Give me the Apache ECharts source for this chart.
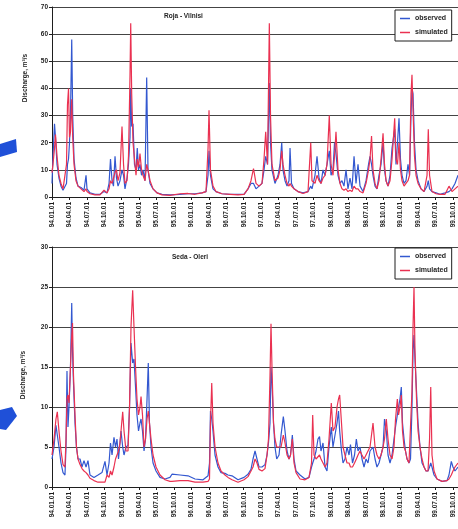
<!DOCTYPE html>
<html><head><meta charset="utf-8">
<script src="https://cdn.jsdelivr.net/npm/echarts/dist/echarts.min.js"></script>
<style>html,body{margin:0;padding:0;background:#fff}#c{width:458px;height:529px}</style>
</head><body><div id="c"></div>
<script>
// time: years since 1994-01-01
const tickLabels = ['94.01.01','94.04.01','94.07.01','94.10.01','95.01.01','95.04.01','95.07.01','95.10.01','96.01.01','96.04.01','96.07.01','96.10.01','97.01.01','97.04.01','97.07.01','97.10.01','98.01.01','98.04.01','98.07.01','98.10.01','99.01.01','99.04.01','99.07.01','99.10.01'];

const topTime = [0.000,0.014,0.036,0.050,0.072,0.100,0.129,0.158,0.186,0.208,
0.222,0.237,0.251,0.265,0.283,0.297,0.316,0.344,0.373,0.416,
0.459,0.488,0.502,0.545,0.617,0.688,0.746,0.789,0.818,0.839,
0.861,0.882,0.904,0.925,0.947,0.975,1.004,1.026,1.047,1.076,
1.097,1.119,1.129,1.143,1.162,1.183,1.205,1.223,1.241,1.262,
1.284,1.305,1.334,1.358,1.377,1.406,1.449,1.506,1.578,1.692,
1.836,1.951,2.051,2.151,2.209,2.238,2.252,2.273,2.309,2.352,
2.438,2.553,2.668,2.754,2.811,2.854,2.890,2.926,2.969,3.012,
3.041,3.065,3.091,3.117,3.134,3.155,3.198,3.242,3.270,3.295,
3.313,3.342,3.371,3.399,3.414,3.435,3.471,3.528,3.600,3.672,
3.711,3.729,3.772,3.801,3.830,3.858,3.887,3.916,3.944,3.977,
4.002,4.030,4.052,4.073,4.102,4.131,4.159,4.188,4.217,4.245,
4.274,4.303,4.332,4.360,4.389,4.418,4.461,4.504,4.540,4.561,
4.583,4.604,4.633,4.661,4.690,4.719,4.748,4.769,4.791,4.819,
4.848,4.877,4.915,4.934,4.955,4.977,4.998,5.020,5.049,5.077,
5.106,5.128,5.149,5.163,5.178,5.199,5.221,5.250,5.293,5.336,
5.379,5.397,5.415,5.450,5.508,5.565,5.637,5.694,5.737,5.780,
5.823];
const topObserved = [5,15,27,22,12,7,4,2.5,2,5,
12,14,20,30,58,30,14,7,4,3.5,
2.5,8,3,1.5,1,1,2,1.5,5,14,
6,4,15,7,4,6,10,8,3,7,
12,22,40,26,27,12,10,18,10,12,
8,10,6,44,10,5,3,1.5,1,0.8,
1,1.2,1.2,1.5,2,8,17,8,3,2,
1.2,1,1,1,3,5,5,3,4,5,
10,15,12,42,20,10,5,8,12,20,
10,6,4,6,18,5,3,2,1.5,2,
4,3,8,15,7,5,10,8,12,17,
8,10,20,16,8,5,6,4,10,3,
7,3,15,5,12,4,2,6,12,15,
12,8,4,3,8,12,20,10,6,4,
8,18,25,12,20,29,14,8,5,6,
12,8,30,40,38,20,10,6,3,2,
4,6,3,2,1.5,1,1.5,2,3,5,
8];
const topSimulated = [9,12,18,23,15,8,5,3,2.5,12,
34,40,22,24,36,22,12,6,4,3,
2,3,2,1.2,0.8,0.8,2.5,1.5,3,6,
5,7,9,10,6,9,26,12,5,6,
15,45,64,38,20,14,8,14,11,16,
10,8,6,12,10,6,3,1.5,0.8,0.6,
1.2,1.3,1,1.5,2,18,32,10,4,2,
1.2,1,0.8,1,3,6,10.5,5,4,5,
14,24,12,64,30,12,6,7,10,17,
12,8,5,4,5,4,3,2,1.3,2,
20,6,5,8,6,5,7,8,12,30,
12,8,15,24,10,5,3,2.5,3,2,
2.5,2,4,3,3,2,1.5,5,10,14,
22.5,10,5,3,6,14,23.5,12,6,4,
6,14,29,14,12,20,10,6,4,5,
6,8,38,45,32,15,8,5,3,2,
8,25,8,2,1.2,1,1,4,2,3,
4];

const botTime = [0.000,0.029,0.057,0.076,0.100,0.129,0.158,0.186,0.201,0.215,
0.229,0.244,0.265,0.283,0.294,0.308,0.330,0.351,0.373,0.402,
0.430,0.459,0.488,0.516,0.545,0.602,0.660,0.717,0.760,0.789,
0.818,0.839,0.861,0.889,0.911,0.932,0.954,0.975,0.990,1.014,
1.033,1.061,1.090,1.112,1.133,1.157,1.176,1.198,1.219,1.241,
1.262,1.277,1.298,1.320,1.341,1.363,1.381,1.398,1.420,1.449,
1.492,1.549,1.621,1.692,1.721,1.836,1.951,2.051,2.166,2.238,
2.259,2.273,2.291,2.309,2.338,2.381,2.424,2.481,2.524,2.582,
2.668,2.754,2.811,2.854,2.883,2.912,2.940,2.969,3.012,3.055,
3.084,3.105,3.127,3.141,3.155,3.177,3.198,3.223,3.256,3.285,
3.318,3.342,3.371,3.399,3.421,3.447,3.471,3.500,3.557,3.629,
3.686,3.722,3.739,3.758,3.787,3.815,3.837,3.858,3.887,3.916,
3.944,3.973,4.006,4.030,4.059,4.088,4.109,4.126,4.152,4.174,
4.202,4.231,4.260,4.281,4.310,4.339,4.365,4.389,4.418,4.446,
4.475,4.504,4.532,4.561,4.604,4.633,4.661,4.690,4.719,4.748,
4.769,4.795,4.819,4.848,4.877,4.905,4.927,4.953,4.970,4.991,
5.010,5.027,5.049,5.070,5.092,5.120,5.142,5.163,5.178,5.192,
5.206,5.228,5.250,5.278,5.307,5.336,5.364,5.393,5.415,5.432,
5.450,5.479,5.522,5.594,5.665,5.694,5.727,5.751,5.780,5.823];
const botObserved = [3.5,5,7.7,6.5,5,3,1.8,1.5,5,14.5,
7.5,10,15,23,17,13,8,5,3.5,3.5,
2.5,3.3,2.5,3.3,1.5,1.2,1.5,1.8,3.2,1.5,
3,5.5,4,6.2,5,6,3.5,5.5,7,5,
4,5,5.2,10,18,15.5,16,12.5,9,7,
8,8.5,7,4.5,6,11,15.5,8,5,3,
2,1.2,1,1.2,1.6,1.5,1.4,1,0.9,1.4,
3,9.5,8.5,7,4,2.5,1.8,1.7,1.5,1.4,
0.9,1.2,1.6,2.2,3.5,4.5,3.5,2.5,2.5,2.8,
4,5.5,8,15,13,8,5,3.5,4,6.5,
8.8,7,4.5,3.5,4,6.5,3.5,2,1.5,1,
1.2,2.5,3,3.5,4.5,6,6.3,4.5,5.5,2.5,
2,5,7.5,5,6.5,8,9.5,7,4.5,3,
3.5,5,4,5.3,3,4,6,4.5,5,3.5,
2.5,3.5,3,4.5,5,3.5,2.5,3,4,5,
8.5,7,4,3,4,6,7.5,9,10,11,
12.5,8,6,4.5,3.5,3,3.5,10,17,19,
16,12,8,5,3,2.5,2,2,2.5,3,
2.5,1.5,1,0.7,0.8,1.5,3.2,2.5,2,2.5];
const botSimulated = [4,6,8.5,9.4,7,4.5,2.8,2.5,6,11,
11.5,10.5,15,19,20.5,14,9,5,3.5,2.8,
2.3,2,1.8,1.5,1.1,0.8,0.6,0.6,0.6,1.5,
1.2,2,1.5,2.5,3.5,4,4.5,5.5,7,9.4,
7,4.5,4.5,10,20,24.6,20,15,11,9,
10,11.3,9,5,6,8.5,9.5,8,6,4,
2.5,1.5,0.9,0.7,0.7,0.8,0.8,0.6,0.6,0.7,
1,8,13,8,5,3,2,1.5,1.2,0.9,
0.6,0.9,1.3,2,2.5,3.5,3,2.2,2,2.3,
4,6,14,20.4,15,8,6,5,5,5,
6.5,5.5,4,3.5,4,6,3,1.8,1,0.9,
1.2,3,9,4,3.5,3.5,4,3.5,3,2.5,
3,6,10.5,7,7.5,10,11,11.5,8,5,
4,3,3,2.5,2.5,3,3.5,4,4.5,4,
3.5,4,4,5,8,5,4,3.5,4,5,
6,8.5,6,4,3.5,5,8.5,11,9,10,
11.5,7,5,4.5,3.5,3,3,12,20,25,
17,11,7,5,3.5,2.5,2,2,6,12.5,
4,2,1,0.7,0.8,1,1.5,2,2.5,3];

const titles = ['Roja - Vilnisi', 'Seda - Oleri'];
const yName = 'Discharge, m\u00b3/s';

const FONT = 'Liberation Sans, Arial, sans-serif';
const BLUE = '#3358d0', RED = '#ea3151', INK = '#1e1e1e', GRIDC = '#444444';
const zip = (t, v) => t.map((x, i) => [x, v[i]]);
function fmt(v) {
  const k = Math.round(v * 4);
  if (Math.abs(v * 4 - k) > 1e-6 || k < 0 || k >= tickLabels.length) return '';
  return tickLabels[k];
}
function xAxis(gi) {
  return {
    type: 'value', gridIndex: gi, min: 0, max: 5.823, interval: 0.25,
    axisLine: { show: true, lineStyle: { color: INK, width: 1 } },
    axisTick: { show: true, length: 3, lineStyle: { color: INK } },
    splitLine: { show: false },
    axisLabel: { rotate: 90, margin: 5, fontSize: 6.5, fontWeight: 'bold', color: INK, fontFamily: FONT, formatter: fmt }
  };
}
function yAxis(gi, max, step) {
  return {
    type: 'value', gridIndex: gi, min: 0, max: max, interval: step,
    axisLine: { show: true, lineStyle: { color: INK, width: 1 } },
    axisTick: { show: true, length: 3, lineStyle: { color: INK } },
    splitLine: { show: true, lineStyle: { color: GRIDC, width: 1 } },
    axisLabel: { margin: 4, fontSize: 6.5, fontWeight: 'bold', color: INK, fontFamily: FONT }
  };
}
function legend(top) {
  return {
    left: 395, top: top, orient: 'vertical', data: ['observed', 'simulated'],
    icon: 'rect', itemWidth: 10, itemHeight: 1.5, itemGap: 5,
    padding: [4, 4, 4, 5], borderColor: INK, borderWidth: 1, backgroundColor: '#fff',
    textStyle: { fontSize: 7, fontWeight: 'bold', color: INK, fontFamily: FONT, lineHeight: 9 }
  };
}
function line(name, data, color, xi) {
  return {
    name: name, type: 'line', xAxisIndex: xi, yAxisIndex: xi, data: data,
    showSymbol: false, symbol: 'none', color: color, animation: false,
    lineStyle: { color: color, width: 1.2 }, z: name === 'simulated' ? 3 : 2
  };
}
const chart = echarts.init(document.getElementById('c'), null, { renderer: 'canvas' });
chart.setOption({
  backgroundColor: '#fff',
  animation: false,
  grid: [
    { left: 52, right: 0, top: 7, height: 190, containLabel: false, outerBoundsMode: 'none' },
    { left: 52, right: 0, top: 247, height: 240, containLabel: false, outerBoundsMode: 'none' }
  ],
  xAxis: [xAxis(0), xAxis(1)],
  yAxis: [yAxis(0, 70, 10), yAxis(1, 30, 5)],
  legend: [legend(10), legend(248)],
  title: [
    { text: titles[0], left: 164, top: 13, padding: 0, textStyle: { fontSize: 6.5, fontWeight: 'bold', color: INK, fontFamily: FONT } },
    { text: titles[1], left: 172, top: 254, padding: 0, textStyle: { fontSize: 6.5, fontWeight: 'bold', color: INK, fontFamily: FONT } }
  ],
  graphic: [
    { type: 'text', x: 25, y: 78, rotation: Math.PI / 2,
      style: { text: yName, font: 'bold 6.5px ' + FONT, fill: INK, align: 'center', verticalAlign: 'middle', textAlign: 'center', textVerticalAlign: 'middle' } },
    { type: 'text', x: 23, y: 375, rotation: Math.PI / 2,
      style: { text: yName, font: 'bold 6.5px ' + FONT, fill: INK, align: 'center', verticalAlign: 'middle', textAlign: 'center', textVerticalAlign: 'middle' } },
    { type: 'polygon', shape: { points: [[0, 144], [16, 139], [17, 152], [0, 157]] }, style: { fill: '#1f50d8' } },
    { type: 'polygon', shape: { points: [[0, 410], [12, 407], [17, 416], [6, 430], [0, 429]] }, style: { fill: '#1f50d8' } }
  ],
  series: [
    line('observed', zip(topTime, topObserved), BLUE, 0),
    line('simulated', zip(topTime, topSimulated), RED, 0),
    line('observed', zip(botTime, botObserved), BLUE, 1),
    line('simulated', zip(botTime, botSimulated), RED, 1)
  ]
});
</script></body></html>
